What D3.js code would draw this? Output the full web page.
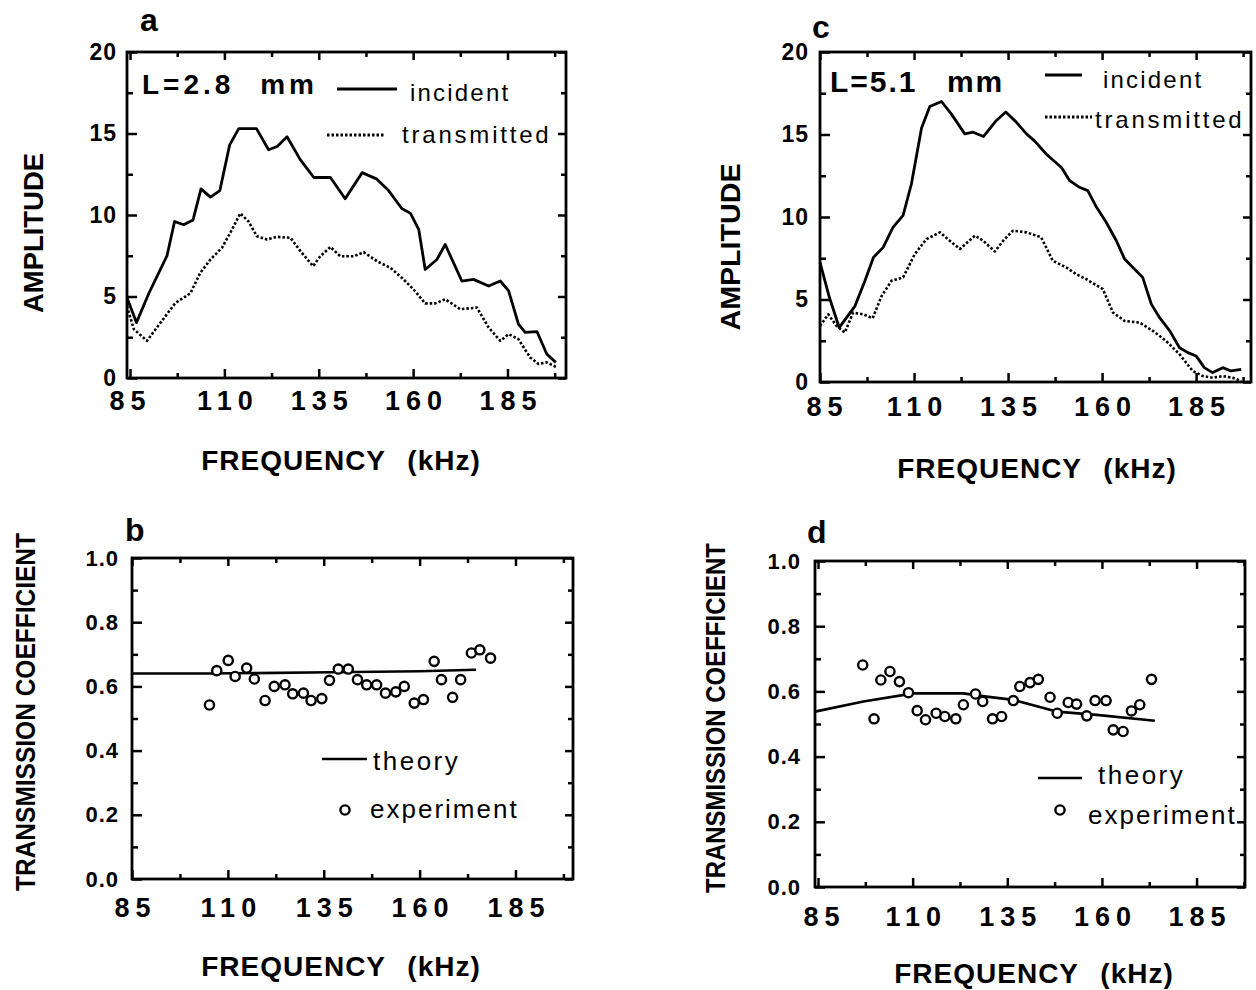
<!DOCTYPE html>
<html>
<head>
<meta charset="utf-8">
<script src="https://cdn.jsdelivr.net/npm/d3@7"></script>
<style>
body { margin: 0; background: #fff; }
text { font-family: "Liberation Sans", Arial, Helvetica, sans-serif; fill: #000; }
</style>
</head>
<body>
<svg width="1256" height="990"></svg>
<script>
// tick values
var xMajor = [85, 110, 135, 160, 185];
var xMinor = [97.5, 122.5, 147.5, 172.5, 197.5];
var ampMajor = [0, 5, 10, 15, 20];
var ampMinor = [2.5, 7.5, 12.5, 17.5];
var coefMajor = [0, 0.2, 0.4, 0.6, 0.8, 1.0];
var coefMinor = [0.1, 0.3, 0.5, 0.7, 0.9];

// panel a, L = 2.8 mm  [kHz, amplitude]
var incidentA = [[84.2,4.93],[86.7,3.4],[90.0,5.2],[92.6,6.45],[94.8,7.5],[96.8,9.6],[99.2,9.4],[101.7,9.7],
  [103.8,11.6],[106.3,11.1],[108.8,11.5],[111.4,14.3],[113.8,15.3],[118.5,15.3],[121.7,14.0],[124.0,14.2],
  [126.6,14.8],[130.1,13.4],[133.7,12.3],[138.1,12.3],[142.0,11.0],[146.5,12.6],[150.4,12.2],[153.5,11.5],
  [157.0,10.4],[159.3,10.1],[161.5,9.1],[163.2,6.66],[166.3,7.27],[168.5,8.19],[172.9,5.95],[176.0,6.05],
  [180.0,5.64],[183.1,5.95],[185.3,5.34],[187.9,3.3],[189.7,2.8],[192.8,2.85],[195.4,1.47],[197.8,0.96]];
var transmittedA = [[84.2,4.4],[86.0,3.0],[89.5,2.28],[93.1,3.4],[97.0,4.6],[101.0,5.2],[103.6,6.45],[106.3,7.27],
  [109.4,8.0],[112.0,9.1],[114.2,10.1],[116.4,9.6],[118.6,8.7],[121.3,8.5],[123.9,8.66],[127.5,8.6],
  [130.1,7.8],[133.5,6.86],[135.4,7.47],[138.1,8.04],[140.7,7.47],[144.3,7.47],[146.9,7.72],[150.4,7.17],
  [154.0,6.76],[157.0,6.15],[160.1,5.44],[163.2,4.58],[165.9,4.58],[168.5,4.83],[172.5,4.22],[176.9,4.32],
  [180.0,3.1],[183.1,2.28],[185.3,2.69],[187.9,2.38],[191.0,1.26],[193.2,0.86],[195.4,0.96],[198.1,0.65]];

// panel c, L = 5.1 mm
var incidentC = [[85,7.25],[87.5,5.12],[90.1,3.3],[94.3,4.6],[96.9,6.1],[99.2,7.55],[101.8,8.16],[104.4,9.37],
  [107.1,10.1],[109.3,12.0],[112.0,15.4],[114.2,16.7],[117.3,17.0],[119.9,16.25],[123.5,15.04],[125.7,15.14],
  [128.5,14.88],[131.9,15.85],[134.4,16.36],[137.2,15.75],[139.9,15.04],[142.1,14.6],[145.2,13.8],[149.2,13.0],
  [151.4,12.2],[154.0,11.8],[156.2,11.6],[158.5,10.6],[161.1,9.68],[163.8,8.56],[166.0,7.45],[168.2,6.94],
  [170.8,6.34],[173.1,4.72],[175.3,3.9],[178.0,3.1],[180.6,2.08],[182.8,1.78],[185.0,1.58],[187.2,0.87],
  [189.4,0.57],[192.1,0.87],[194.3,0.67],[197.0,0.77]];
var transmittedC = [[85,3.4],[87.2,4.1],[89.4,3.4],[91.6,3.0],[93.8,4.2],[96.5,4.1],[99.0,3.87],[101.4,5.22],
  [104.0,6.13],[107.1,6.34],[110.2,7.75],[113.3,8.66],[116.9,9.07],[119.5,8.56],[122.2,8.06],[126.2,8.87],
  [128.4,8.56],[131.5,7.91],[133.7,8.56],[136.3,9.17],[139.9,9.07],[143.8,8.77],[146.9,7.35],[150.5,6.94],
  [153.1,6.54],[155.8,6.23],[160.2,5.63],[162.9,4.21],[166.0,3.7],[170.0,3.6],[173.5,3.1],[177.0,2.49],
  [180.6,1.68],[184.1,0.67],[186.8,0.36],[189.4,0.26],[192.1,0.36],[194.7,0.26],[197.0,0.06]];

// panel b, transmission coefficient
var theoryB = [[85,0.640],[105,0.640],[137,0.644],[160,0.647],[174.7,0.652]];
var experimentB = [[105.2,0.542],[107.1,0.649],[110.1,0.681],[111.9,0.631],[114.9,0.657],[116.9,0.623],
  [119.7,0.556],[122.1,0.600],[124.9,0.605],[126.9,0.577],[129.7,0.579],[131.7,0.556],[134.5,0.562],
  [136.5,0.619],[138.8,0.654],[141.4,0.654],[143.8,0.621],[146.2,0.605],[148.8,0.605],[151.1,0.579],
  [153.8,0.583],[156.0,0.600],[158.6,0.548],[161.0,0.559],[163.8,0.678],[165.7,0.621],[168.6,0.566],
  [170.7,0.621],[173.5,0.704],[175.7,0.714],[178.5,0.688]];

// panel d
var theoryD = [[84.2,0.538],[97.0,0.569],[110.2,0.594],[123.4,0.594],[129.5,0.584],[136.6,0.574],
  [148.0,0.538],[158.6,0.528],[174.0,0.510]];
var experimentD = [[96.8,0.681],[99.8,0.516],[101.6,0.635],[104.0,0.661],[106.5,0.630],[108.9,0.596],
  [111.2,0.541],[113.4,0.513],[116.2,0.533],[118.5,0.523],[121.4,0.516],[123.4,0.559],[126.6,0.592],
  [128.5,0.569],[131.1,0.516],[133.5,0.523],[136.6,0.572],[138.3,0.615],[141.0,0.627],[143.2,0.637],
  [146.3,0.582],[148.2,0.533],[151.1,0.566],[153.3,0.561],[156.0,0.525],[158.2,0.572],[161.1,0.572],
  [163.0,0.482],[165.6,0.477],[167.8,0.540],[170.0,0.559],[173.1,0.637]];

var svg = d3.select("svg");

function panel(p) {
    var g = svg.append("g");
    var x = d3.scaleLinear().domain(p.xDomain).range([p.left, p.right]);
    var y = d3.scaleLinear().domain(p.yDomain).range([p.bottom, p.top]);

    function ticks(axis, pos, vals, size, labels) {
        var a = axis.tickValues(vals).tickSize(size);
        if (!labels) a.tickFormat("");
        var ag = g.append("g").attr("transform", pos).call(a);
        ag.select(".domain").remove();
        ag.selectAll(".tick line").attr("stroke", "#000").attr("stroke-width", 2.5);
        return ag;
    }

    // x ticks
    var xb = ticks(d3.axisBottom(x).tickPadding(p.xPad).tickFormat(d3.format("d")),
        "translate(0," + p.bottom + ")", xMajor, -9, true);
    xb.selectAll("text").attr("font-size", 27).attr("font-weight", "bold")
        .style("letter-spacing", "6px").attr("dx", function (d) { return d === 85 ? p.dx85 : 3; })
        .attr("fill", "#000");
    ticks(d3.axisBottom(x), "translate(0," + p.bottom + ")", xMinor, -5, false);
    ticks(d3.axisTop(x), "translate(0," + p.top + ")", xMajor, -8, false);
    ticks(d3.axisTop(x), "translate(0," + p.top + ")", xMinor, -5, false);

    // y ticks
    var yl = ticks(d3.axisLeft(y).tickPadding(p.yPad).tickFormat(p.yFormat),
        "translate(" + p.left + ",0)", p.yMajor, -10, true);
    yl.selectAll("text").attr("font-size", p.yFont).attr("font-weight", "bold")
        .style("letter-spacing", "1px").attr("dx", 1).attr("fill", "#000");
    ticks(d3.axisLeft(y), "translate(" + p.left + ",0)", p.yMinor, -6, false);
    ticks(d3.axisRight(y), "translate(" + p.right + ",0)", p.yMajor, -8, false);
    ticks(d3.axisRight(y), "translate(" + p.right + ",0)", p.yMinor, -5, false);

    // frame
    g.append("rect")
        .attr("x", p.left).attr("y", p.top)
        .attr("width", p.right - p.left).attr("height", p.bottom - p.top)
        .attr("fill", "none").attr("stroke", "#000").attr("stroke-width", 2.8);

    var line = d3.line().x(function (d) { return x(d[0]); }).y(function (d) { return y(d[1]); });

    (p.lines || []).forEach(function (s) {
        g.append("path").datum(s.data)
            .attr("d", line)
            .attr("fill", "none").attr("stroke", "#000")
            .attr("stroke-width", s.width)
            .attr("stroke-linejoin", "round")
            .attr("stroke-dasharray", s.dash || null);
    });

    if (p.points) {
        g.selectAll("circle.pt").data(p.points).enter().append("circle")
            .attr("class", "pt")
            .attr("cx", function (d) { return x(d[0]); })
            .attr("cy", function (d) { return y(d[1]); })
            .attr("r", 4.6)
            .attr("fill", "#fff").attr("stroke", "#000").attr("stroke-width", 2.4);
    }

    // panel letter
    g.append("text").attr("x", p.letter[1]).attr("y", p.letter[2])
        .attr("font-size", 32).attr("font-weight", "bold").text(p.letter[0]);

    // x title
    var xt = g.append("text").attr("x", p.xTitle[0]).attr("y", p.xTitle[1])
        .attr("text-anchor", "middle").attr("font-size", 28).attr("font-weight", "bold")
        .style("letter-spacing", "1px").text("FREQUENCY");
    xt.append("tspan").attr("dx", 13).text(" (kHz)");

    // y title
    g.append("text")
        .attr("transform", "translate(" + p.yTitle[0] + "," + p.yTitle[1] + ") rotate(-90)")
        .attr("text-anchor", "middle").attr("font-size", p.yTitle[3]).attr("font-weight", "bold")
        .attr("textLength", p.yTitle[2]).attr("lengthAdjust", "spacingAndGlyphs")
        .text(p.yTitle[4]);

    return g;
}

function legendLine(g, x1, x2, yy, dash, w) {
    g.append("line").attr("x1", x1).attr("x2", x2).attr("y1", yy).attr("y2", yy)
        .attr("stroke", "#000").attr("stroke-width", w || 2.8)
        .attr("stroke-dasharray", dash || null);
}
function legendText(g, xx, yy, s, size, ls) {
    return g.append("text").attr("x", xx).attr("y", yy)
        .attr("font-size", size).style("letter-spacing", ls + "px").text(s);
}
function legendCircle(g, xx, yy) {
    g.append("circle").attr("cx", xx).attr("cy", yy).attr("r", 4.6)
        .attr("fill", "#fff").attr("stroke", "#000").attr("stroke-width", 2.4);
}

// a
var ga = panel({
    left: 127, right: 566, top: 52, bottom: 378,
    xDomain: [84.2, 200.5], yDomain: [0, 20],
    yMajor: ampMajor, yMinor: ampMinor, yFormat: d3.format("d"), yFont: 23,
    xPad: 13, yPad: 11, dx85: 0,
    lines: [{ data: incidentA, width: 2.8 }, { data: transmittedA, width: 2.6, dash: "2.5,2" }],
    letter: ["a", 140, 31],
    xTitle: [341, 470],
    yTitle: [43, 233, 160, 28, "AMPLITUDE"]
});
var la = ga.append("text").attr("x", 142).attr("y", 94).attr("font-size", 28).attr("font-weight", "bold")
    .style("letter-spacing", "4px").text("L=2.8");
la.append("tspan").attr("dx", 14).text(" mm");
legendLine(ga, 337, 397, 89);
legendText(ga, 410, 101, "incident", 24, 2.2);
legendLine(ga, 327, 385, 135, "2.5,2", 2.8);
legendText(ga, 402, 143, "transmitted", 24, 2.8);

// c
var gc = panel({
    left: 820, right: 1251, top: 52, bottom: 382,
    xDomain: [85, 199.6], yDomain: [0, 20],
    yMajor: ampMajor, yMinor: ampMinor, yFormat: d3.format("d"), yFont: 23,
    xPad: 15, yPad: 12, dx85: 7,
    lines: [{ data: incidentC, width: 2.8 }, { data: transmittedC, width: 2.6, dash: "2.5,2" }],
    letter: ["c", 812, 38],
    xTitle: [1037, 478],
    yTitle: [740, 247, 167, 28, "AMPLITUDE"]
});
var lc = gc.append("text").attr("x", 830).attr("y", 92).attr("font-size", 30).attr("font-weight", "bold")
    .style("letter-spacing", "2px").text("L=5.1");
lc.append("tspan").attr("dx", 19).text(" mm");
legendLine(gc, 1045, 1082, 75);
legendText(gc, 1103, 88, "incident", 24, 2.2);
legendLine(gc, 1045, 1092, 117, "2.5,2", 2.8);
legendText(gc, 1095, 128, "transmitted", 24, 2.8);

// b
var gb = panel({
    left: 132, right: 573, top: 558, bottom: 879,
    xDomain: [85, 200], yDomain: [0, 1],
    yMajor: coefMajor, yMinor: coefMinor, yFormat: d3.format(".1f"), yFont: 22,
    xPad: 19, yPad: 14, dx85: 3,
    lines: [{ data: theoryB, width: 2.6 }],
    points: experimentB,
    letter: ["b", 125, 541],
    xTitle: [341, 976],
    yTitle: [35, 712, 358, 27, "TRANSMISSION  COEFFICIENT"]
});
legendLine(gb, 322, 367, 759, null, 2.6);
legendText(gb, 373, 770, "theory", 26, 2.5);
legendCircle(gb, 345, 810);
legendText(gb, 370, 818, "experiment", 26, 2);

// d
var gd = panel({
    left: 815, right: 1245, top: 561, bottom: 887,
    xDomain: [84.2, 197.8], yDomain: [0, 1],
    yMajor: coefMajor, yMinor: coefMinor, yFormat: d3.format(".1f"), yFont: 22,
    xPad: 20, yPad: 15, dx85: 6,
    lines: [{ data: theoryD, width: 2.6 }],
    points: experimentD,
    letter: ["d", 807, 543],
    xTitle: [1034, 983],
    yTitle: [725, 718, 350, 27, "TRANSMISSION  COEFFICIENT"]
});
legendLine(gd, 1038, 1082, 778, null, 2.6);
legendText(gd, 1098, 784, "theory", 26, 2.5);
legendCircle(gd, 1060, 810);
legendText(gd, 1088, 824, "experiment", 26, 2);
</script>
</body>
</html>
